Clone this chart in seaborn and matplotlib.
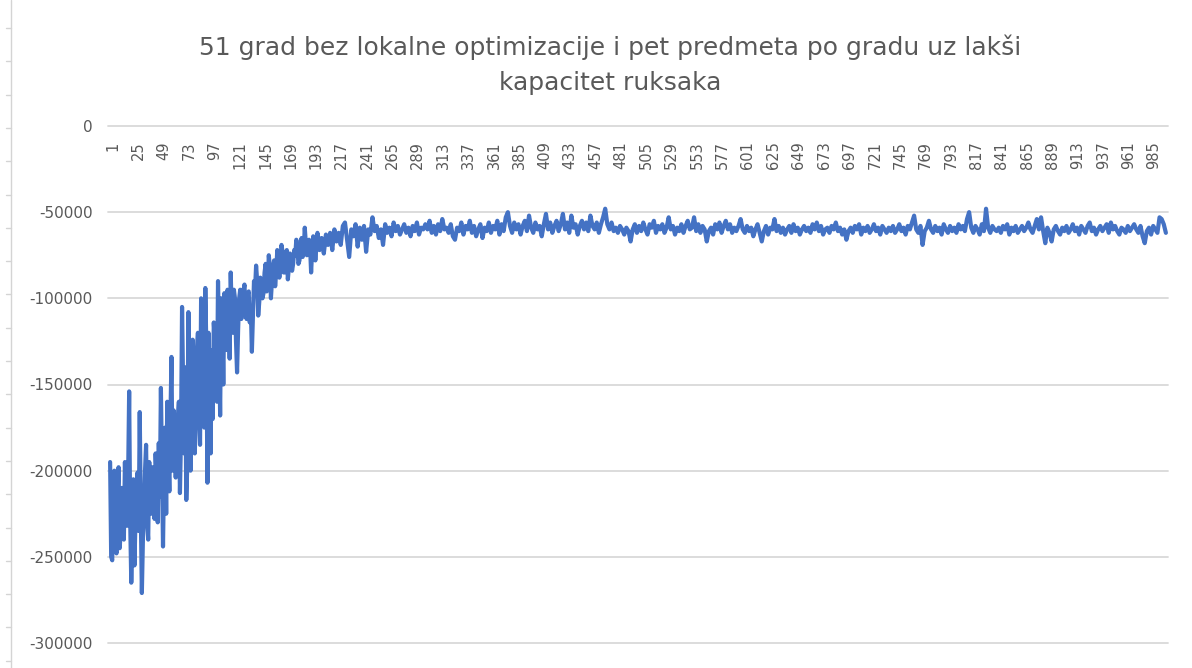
import numpy as np
import pandas as pd
import seaborn as sns
import matplotlib.pyplot as plt
from matplotlib.lines import Line2D
from matplotlib.transforms import ScaledTranslation

# ---------------- data ----------------
title_lines = ["51 grad bez lokalne optimizacije i pet predmeta po gradu uz lakši",
               "kapacitet ruksaka"]

# every generation for 1..199, every 2nd generation afterwards
generations = list(range(1, 200)) + list(range(201, 1000, 2))

values_g1_59 = [
    -195000, -250000, -252000, -205000, -200000, -240000, -248000, -215000, -198000, -245000,
    -236000, -210000, -215000, -240000, -195000, -225000, -232000, -205000, -154000, -230000,
    -265000, -240000, -205000, -255000, -228000, -210000, -201000, -235000, -166000, -225000,
    -271000, -240000, -222000, -200000, -185000, -230000, -240000, -195000, -210000, -225000,
    -198000, -215000, -228000, -190000, -205000, -230000, -184000, -215000, -152000, -200000,
    -244000, -200000, -175000, -225000, -160000, -190000, -212000, -170000, -134000,
]
values_g60_121 = [
    -200000, -165000, -175000, -204000, -185000, -170000, -160000, -213000, -180000, -105000,
    -150000, -190000, -140000, -217000, -195000, -108000, -150000, -200000, -175000, -124000,
    -150000, -190000, -170000, -130000, -120000, -160000, -185000, -100000, -120000, -150000,
    -175000, -94000, -130000, -207000, -120000, -160000, -190000, -130000, -170000, -114000,
    -125000, -140000, -160000, -90000, -125000, -168000, -100000, -110000, -150000, -97000,
    -115000, -130000, -95000, -105000, -135000, -85000, -110000, -120000, -95000, -100000,
    -125000, -143000,
]
values_g122_199 = [
    -118000, -100000, -95000, -112000, -108000, -96000, -92000, -108000, -112000, -98000,
    -96000, -114000, -105000, -131000, -110000, -90000, -95000, -81000, -90000, -110000,
    -102000, -88000, -92000, -100000, -97000, -85000, -80000, -96000, -92000, -75000,
    -82000, -100000, -90000, -82000, -78000, -93000, -85000, -72000, -80000, -88000,
    -78000, -69000, -73000, -85000, -85000, -77000, -72000, -89000, -82000, -74000,
    -76000, -84000, -80000, -72000, -75000, -66000, -70000, -80000, -78000, -70000,
    -65000, -76000, -72000, -59000, -68000, -75000, -72000, -66000, -70000, -85000,
    -72000, -64000, -68000, -78000, -70000, -62000, -66000, -72000,
]
values_g201_299 = [
    -65000, -74000, -63000, -69000, -62000, -72000, -60000, -67000, -62000, -69000,
    -58000, -56000, -66000, -76000, -60000, -64000, -57000, -70000, -59000, -66000,
    -58000, -73000, -60000, -63000, -53000, -61000, -58000, -65000, -60000, -69000,
    -57000, -62000, -59000, -64000, -56000, -61000, -58000, -63000, -60000, -57000,
    -62000, -59000, -64000, -58000, -61000, -56000, -63000, -59000, -60000, -57000,
]
values_g301_599 = [
    -60000, -55000, -62000, -58000, -63000, -57000, -61000, -54000, -60000, -59000,
    -62000, -57000, -64000, -66000, -59000, -61000, -56000, -63000, -58000, -60000,
    -55000, -62000, -58000, -64000, -60000, -57000, -65000, -59000, -61000, -56000,
    -62000, -58000, -60000, -55000, -63000, -57000, -61000, -53000, -50000, -58000,
    -62000, -56000, -60000, -57000, -63000, -58000, -55000, -61000, -52000, -59000,
    -62000, -56000, -60000, -58000, -64000, -57000, -51000, -60000, -56000, -62000,
    -58000, -55000, -61000, -57000, -51000, -60000, -56000, -62000, -52000, -59000,
    -57000, -63000, -58000, -55000, -60000, -56000, -61000, -52000, -58000, -60000,
    -56000, -62000, -57000, -53000, -48000, -57000, -60000, -56000, -61000, -59000,
    -62000, -58000, -60000, -63000, -59000, -61000, -67000, -60000, -57000, -62000,
    -58000, -61000, -56000, -60000, -63000, -57000, -59000, -55000, -62000, -58000,
    -60000, -57000, -62000, -59000, -53000, -60000, -58000, -63000, -59000, -61000,
    -57000, -62000, -58000, -55000, -60000, -59000, -53000, -61000, -57000, -62000,
    -58000, -60000, -67000, -61000, -59000, -63000, -57000, -60000, -56000, -62000,
    -58000, -55000, -60000, -57000, -62000, -59000, -61000, -58000, -54000, -60000,
]
values_g601_999 = [
    -62000, -58000, -61000, -59000, -64000, -60000, -57000, -62000, -67000, -61000,
    -58000, -63000, -59000, -60000, -54000, -61000, -58000, -62000, -59000, -63000,
    -60000, -58000, -62000, -57000, -61000, -59000, -63000, -60000, -58000, -61000,
    -59000, -62000, -57000, -60000, -56000, -61000, -58000, -63000, -60000, -59000,
    -62000, -58000, -60000, -56000, -61000, -59000, -63000, -60000, -66000, -61000,
    -59000, -62000, -58000, -60000, -57000, -63000, -59000, -61000, -58000, -62000,
    -60000, -57000, -61000, -59000, -63000, -58000, -60000, -62000, -59000, -61000,
    -58000, -62000, -60000, -57000, -61000, -59000, -63000, -58000, -60000, -56000,
    -52000, -60000, -62000, -58000, -69000, -61000, -59000, -55000, -60000, -62000,
    -58000, -61000, -59000, -63000, -57000, -60000, -62000, -58000, -61000, -59000,
    -62000, -57000, -60000, -58000, -61000, -54000, -50000, -59000, -62000, -58000,
    -60000, -63000, -57000, -61000, -48000, -59000, -62000, -58000, -60000, -61000,
    -59000, -62000, -58000, -60000, -57000, -63000, -59000, -61000, -58000, -62000,
    -60000, -58000, -61000, -59000, -56000, -60000, -62000, -58000, -54000, -60000,
    -53000, -61000, -68000, -59000, -62000, -67000, -60000, -58000, -61000, -63000,
    -59000, -61000, -58000, -62000, -60000, -57000, -61000, -59000, -63000, -58000,
    -60000, -62000, -58000, -56000, -61000, -59000, -63000, -60000, -58000, -61000,
    -59000, -57000, -62000, -56000, -60000, -58000, -61000, -63000, -59000, -60000,
    -62000, -58000, -61000, -59000, -57000, -60000, -62000, -58000, -64000, -68000,
    -61000, -59000, -63000, -58000, -60000, -62000, -53000, -54000, -57000, -62000,
]

x_tick_labels = [1, 25, 49, 73, 97, 121, 145, 169, 193, 217, 241, 265, 289, 313, 337,
                 361, 385, 409, 433, 457, 481, 505, 529, 553, 577, 601, 625, 649, 673,
                 697, 721, 745, 769, 793, 817, 841, 865, 889, 913, 937, 961, 985]
y_ticks = [0, -50000, -100000, -150000, -200000, -250000, -300000]
y_tick_labels = ["0", "-50000", "-100000", "-150000", "-200000", "-250000", "-300000"]

values = (values_g1_59 + values_g60_121 + values_g122_199 + values_g201_299
          + values_g301_599 + values_g601_999)
assert len(values) == len(generations)

df = pd.DataFrame({"generacija": generations, "vrijednost": values})

# ---------------- styling ----------------
sns.set_theme(style="white")
plt.rcParams["font.family"] = ["DejaVu Sans"]
plt.rcParams["axes.unicode_minus"] = False

W, H = 1192, 668
fig = plt.figure(figsize=(W / 100, H / 100), dpi=100)
fig.patch.set_facecolor("white")

left_px, right_px, top_px, bottom_px = 108, 1168, 126, 643
ax = fig.add_axes([left_px / W, 1 - bottom_px / H,
                   (right_px - left_px) / W, (bottom_px - top_px) / H])

sns.lineplot(data=df, x="generacija", y="vrijednost", ax=ax,
             color="#4472C4", linewidth=3.0, solid_joinstyle="round")

ax.set_xlim(-1, 1001)
ax.set_ylim(-300000, 0)
ax.set_xlabel("")
ax.set_ylabel("")

for s in ax.spines.values():
    s.set_visible(False)

ax.set_yticks(y_ticks)
ax.set_yticklabels(y_tick_labels)
ax.yaxis.grid(True, color="#d9d9d9", linewidth=1.3)
ax.xaxis.grid(False)
ax.set_axisbelow(True)
for gl in ax.get_ygridlines():
    gl.set_clip_on(False)
ax.tick_params(axis="y", length=0, pad=11, labelsize=11, colors="#595959")

ax.set_xticks(x_tick_labels)
ax.set_xticklabels([str(v) for v in x_tick_labels], rotation=90)
ax.xaxis.set_ticks_position("top")
ax.tick_params(axis="x", length=0, pad=-11, labelsize=10.5, colors="#595959")
shift = ScaledTranslation(3 / 100, 0, fig.dpi_scale_trans)
for lab in ax.get_xticklabels():
    lab.set_verticalalignment("top")
    lab.set_transform(lab.get_transform() + shift)

# title
fig.text(610 / W, 1 - 47 / H, title_lines[0], ha="center", va="center",
         fontsize=18, color="#595959")
fig.text(610 / W, 1 - 83 / H, title_lines[1], ha="center", va="center",
         fontsize=18, color="#595959")

# screenshot frame (ruler on the left edge)
fig.add_artist(Line2D([11 / W, 11 / W], [0, 1], transform=fig.transFigure,
                      color="#d4d4d4", linewidth=1))
for k in range(20):
    yy = 1 - (28 + 33.3 * k) / H
    fig.add_artist(Line2D([6 / W, 11 / W], [yy, yy], transform=fig.transFigure,
                          color="#d4d4d4", linewidth=1))

fig.savefig("out.png", dpi=100)
